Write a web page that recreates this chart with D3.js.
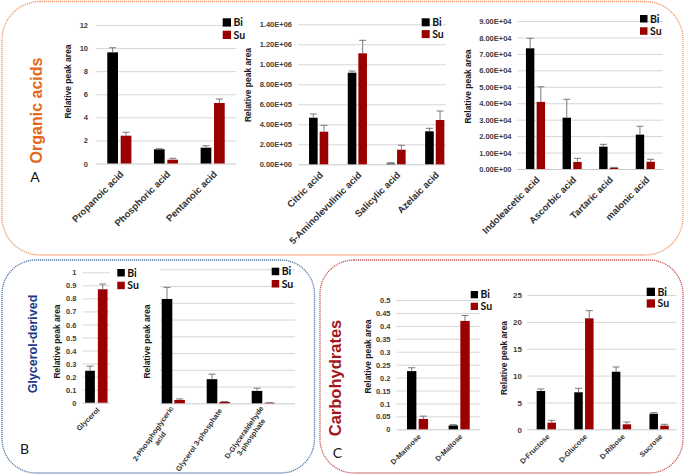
<!DOCTYPE html>
<html><head><meta charset="utf-8">
<script src="https://cdn.jsdelivr.net/npm/d3@7"></script>
<style>
body{margin:0;background:#fff;}
svg{display:block;}
</style></head>
<body>
<svg id="c" width="685" height="475"></svg>
<script>
// ---------------- DATA ----------------
const seriesNames = ["Bi", "Su"];

// A1
const a1Categories = ["Propanoic acid", "Phosphoric acid", "Pentanoic acid"];
const a1Bi = [9.63, 1.23, 1.37];
const a1BiErr = [0.4, 0.05, 0.17];
const a1Su = [2.41, 0.33, 5.24];
const a1SuErr = [0.3, 0.12, 0.35];
const a1Ticks = [0, 2, 4, 6, 8, 10, 12];

// A2
const a2Categories = ["Citric acid", "5-Aminolevulinic acid", "Salicylic acid", "Azelaic acid"];
const a2Bi = [466000, 916000, 8000, 330000];
const a2BiErr = [37000, 17000, 8000, 30000];
const a2Su = [326000, 1110000, 146000, 443000];
const a2SuErr = [64000, 130000, 44000, 90000];
const a2Ticks = [0, 200000, 400000, 600000, 800000, 1000000, 1200000, 1400000];

// A3
const a3Categories = ["Indoleacetic acid", "Ascorbic acid", "Tartaric acid", "malonic acid"];
const a3Bi = [73400, 31200, 13600, 20900];
const a3BiErr = [6100, 11200, 1400, 5100];
const a3Su = [40800, 4300, 800, 4400];
const a3SuErr = [9200, 2200, 200, 1500];
const a3Ticks = [0, 10000, 20000, 30000, 40000, 50000, 60000, 70000, 80000, 90000];

// B1
const b1Categories = ["Glycerol"];
const b1Bi = [0.245];
const b1BiErr = [0.035];
const b1Su = [0.87];
const b1SuErr = [0.04];
const b1Ticks = [0, 0.1, 0.2, 0.3, 0.4, 0.5, 0.6, 0.7, 0.8, 0.9, 1];

// B2 (no tick labels shown)
const b2Categories = [["2-Phosphoglyceric", "acid"], ["Glycerol 3-phosphate"], ["D-Glyceraldehyde", "3-phosphate"]];
const b2Bi = [6.23, 1.44, 0.74];
const b2BiErr = [0.69, 0.3, 0.16];
const b2Su = [0.2, 0.08, 0.03];
const b2SuErr = [0.06, 0.03, 0.01];
const b2Ticks = [0, 1, 2, 3, 4, 5, 6, 7, 8];

// C1
const c1Categories = ["D-Mannose", "D-Maltose"];
const c1Bi = [0.225, 0.015];
const c1BiErr = [0.013, 0.003];
const c1Su = [0.04, 0.419];
const c1SuErr = [0.011, 0.021];
const c1Ticks = [0, 0.05, 0.1, 0.15, 0.2, 0.25, 0.3, 0.35, 0.4, 0.45, 0.5];

// C2
const c2Categories = ["D-Fructose", "D-Glucose", "D-Ribose", "Sucrose"];
const c2Bi = [7.13, 6.89, 10.72, 2.9];
const c2BiErr = [0.37, 0.74, 0.88, 0.2];
const c2Su = [1.24, 20.66, 0.93, 0.67];
const c2SuErr = [0.43, 1.42, 0.43, 0.26];
const c2Ticks = [0, 5, 10, 15, 20, 25];

const yLabel = "Relative peak area";
const panelTitles = ["Organic acids", "Glycerol-derived", "Carbohydrates"];
const panelLetters = ["A", "B", "C"];

// ---------------- STYLE ----------------
const colBi = "#000000", colSu = "#9a0000";
const fontArial = "'Liberation Sans', Arial, sans-serif";
const fontCal = "Lato, 'Open Sans', sans-serif";

const svg = d3.select("#c");

// ---------------- PANEL BOXES ----------------
function roundedBox(x, y, w, h, r, color) {
  svg.append("rect").attr("x", x).attr("y", y).attr("width", w).attr("height", h)
    .attr("rx", r).attr("ry", r).attr("fill", "none")
    .attr("stroke", color).attr("stroke-width", 1.3).attr("stroke-dasharray", "1.2,0.8");
}
roundedBox(2, 1.5, 681, 253.5, 38, "#f0986a");
roundedBox(2, 260, 312.5, 213, 34, "#5878a8");
roundedBox(320, 260, 363, 213, 34, "#c95a5a");

function vTitle(text, x, y, size, color) {
  svg.append("text").attr("transform", `translate(${x},${y}) rotate(-90)`)
    .attr("text-anchor", "middle").attr("font-family", fontArial).attr("font-weight", "bold")
    .attr("font-size", size).attr("fill", color).text(text);
}
vTitle(panelTitles[0], 42, 110.5, 16, "#e4691c");
vTitle(panelTitles[1], 36.5, 344, 12.5, "#1f3a8a");
vTitle(panelTitles[2], 341, 378, 16.5, "#a3161c");

function letter(t, x, y) {
  svg.append("text").attr("x", x).attr("y", y).attr("text-anchor", "middle")
    .attr("font-family", fontCal).attr("font-size", 14).attr("fill", "#111").text(t);
}
letter(panelLetters[0], 35, 182);
letter(panelLetters[1], 24.5, 454);
letter(panelLetters[2], 337.5, 458);

// ---------------- CHART FUNCTION ----------------
function sciFmt(d) {
  const [m, e] = d.toExponential(2).split("e");
  const sign = e[0] === "-" ? "-" : "+";
  const ex = Math.abs(+e).toString().padStart(2, "0");
  return m.toUpperCase() + "E" + sign + ex;
}
function decFmt(d) { return String(+d.toFixed(2)); }

function barChart(cfg) {
  const g = svg.append("g");
  const y = d3.scaleLinear().domain(cfg.domain).range([cfg.y0, cfg.y1]);
  const x = d3.scaleBand().domain(d3.range(cfg.categories.length)).range(cfg.band).padding(0);
  const x1 = d3.scaleBand().domain(seriesNames).range([0, cfg.barW * 2 + cfg.gap]).paddingInner(cfg.gap / (cfg.barW + cfg.gap)).paddingOuter(0);
  const groupW = cfg.barW * 2 + cfg.gap;

  // gridlines via axis
  const gw = cfg.grid[1] - cfg.grid[0];
  const ga = g.append("g").attr("transform", `translate(${cfg.grid[1]},0)`)
    .call(d3.axisLeft(y).tickValues(cfg.ticks).tickSize(gw).tickFormat(""));
  ga.select(".domain").remove();
  ga.selectAll(".tick line").attr("stroke", "#d6d6d6").attr("stroke-width", 1);
  ga.selectAll(".tick").filter(d => d === cfg.domain[0]).select("line").attr("stroke", "#c8c8c8");

  // tick labels
  if (cfg.showTickLabels) {
    const la = g.append("g").attr("transform", `translate(${cfg.tickX},0)`)
      .call(d3.axisLeft(y).tickValues(cfg.ticks).tickSize(0).tickPadding(0).tickFormat(cfg.fmt));
    la.select(".domain").remove();
    la.selectAll("text").attr("font-family", fontArial).attr("font-weight", "bold")
      .attr("font-size", cfg.tickSize || 7.5).attr("fill", "#404040").attr("dy", "0.34em");
  }

  // bars
  const series = [
    { name: "Bi", vals: cfg.bi, errs: cfg.biErr, color: colBi },
    { name: "Su", vals: cfg.su, errs: cfg.suErr, color: colSu }
  ];
  series.forEach(s => {
    const bg = g.append("g");
    const items = s.vals.map((v, i) => ({ v, e: s.errs[i], i }));
    const gx = d => x(d.i) + (x.bandwidth() - groupW) / 2 + x1(s.name);
    bg.selectAll("rect").data(items).join("rect")
      .attr("x", gx).attr("width", cfg.barW)
      .attr("y", d => y(d.v)).attr("height", d => y(cfg.domain[0]) - y(d.v))
      .attr("fill", s.color);
    // error bars (upper only)
    bg.selectAll("line.v").data(items).join("line").attr("class", "v")
      .attr("x1", d => gx(d) + cfg.barW / 2).attr("x2", d => gx(d) + cfg.barW / 2)
      .attr("y1", d => y(d.v)).attr("y2", d => y(d.v + d.e))
      .attr("stroke", "#7a7a7a").attr("stroke-width", 1);
    bg.selectAll("line.c").data(items).join("line").attr("class", "c")
      .attr("x1", d => gx(d) + cfg.barW / 2 - cfg.cap).attr("x2", d => gx(d) + cfg.barW / 2 + cfg.cap)
      .attr("y1", d => y(d.v + d.e)).attr("y2", d => y(d.v + d.e))
      .attr("stroke", "#7a7a7a").attr("stroke-width", 1);
  });

  // x labels
  cfg.categories.forEach((c, i) => {
    const lines = Array.isArray(c) ? c : [c];
    const cx = x(i) + x.bandwidth() / 2 + (cfg.labelDx || 0);
    const t = g.append("g").attr("transform", `translate(${cx},${cfg.y0 + cfg.labelDy}) rotate(${cfg.angle})`);
    const txt = t.append("text").attr("font-family", fontArial).attr("font-size", cfg.labelSize)
      .attr("fill", "#333").attr("font-weight", "bold");
    if (lines.length === 1) {
      txt.attr("text-anchor", "end").attr("dy", "0.35em").text(lines[0]);
    } else {
      const tmp = t.append("text").attr("font-family", fontArial).attr("font-size", cfg.labelSize).attr("font-weight", "bold");
      let maxW = 0;
      lines.forEach(l => { tmp.text(l); maxW = Math.max(maxW, tmp.node().getComputedTextLength()); });
      tmp.remove();
      const lh = cfg.labelSize * 1.15;
      lines.forEach((l, k) => {
        txt.append("tspan").attr("x", -maxW / 2).attr("text-anchor", "middle")
          .attr("y", (k - (lines.length - 1) / 2) * lh).attr("dy", "0.35em").text(l);
      });
    }
  });

  // y label
  g.append("text").attr("transform", `translate(${cfg.yl[0]},${cfg.yl[1]}) rotate(-90)`)
    .attr("text-anchor", "middle").attr("dy", "0.35em").attr("font-family", fontArial)
    .attr("font-weight", "bold").attr("font-size", cfg.ylSize || 8.5).attr("fill", "#1a1a1a").text(yLabel);

  // legend
  seriesNames.forEach((n, k) => {
    const ly = cfg.leg[1] + k * cfg.legStep;
    g.append("rect").attr("x", cfg.leg[0]).attr("y", ly).attr("width", cfg.legSq).attr("height", cfg.legSq)
      .attr("fill", k === 0 ? colBi : colSu);
    g.append("text").attr("x", cfg.leg[0] + cfg.legSq + 2.5).attr("y", ly + cfg.legSq / 2).attr("dy", "0.36em")
      .attr("font-family", fontCal).attr("font-weight", "bold").attr("font-size", 10.5)
      .attr("fill", "#111").text(n);
  });
}

// ---------------- CHARTS ----------------
barChart({
  categories: a1Categories, bi: a1Bi, biErr: a1BiErr, su: a1Su, suErr: a1SuErr, ticks: a1Ticks,
  domain: [0, 12], y0: 163.5, y1: 25, grid: [96, 236], band: [96, 236], barW: 10.7, gap: 2.7, cap: 3.5,
  showTickLabels: true, tickX: 88, fmt: d => String(d),
  angle: -45, labelSize: 9.5, labelDy: 9, labelDx: 2.5,
  yl: [68.5, 81.5], leg: [222.7, 18.3], legSq: 8.3, legStep: 12.4
});
barChart({
  categories: a2Categories, bi: a2Bi, biErr: a2BiErr, su: a2Su, suErr: a2SuErr, ticks: a2Ticks,
  domain: [0, 1400000], y0: 164.3, y1: 24.3, grid: [298.3, 446], band: [299.3, 454.1], barW: 8.6, gap: 2, cap: 3.5,
  showTickLabels: true, tickX: 292, fmt: sciFmt,
  angle: -45, labelSize: 9.5, labelDy: 9, labelDx: 2.5,
  yl: [248.3, 85], leg: [421.7, 18.3], legSq: 8, legStep: 11.8
});
barChart({
  categories: a3Categories, bi: a3Bi, biErr: a3BiErr, su: a3Su, suErr: a3SuErr, ticks: a3Ticks,
  domain: [0, 90000], y0: 169, y1: 21, grid: [517.3, 662.7], band: [517.2, 663.6], barW: 8.4, gap: 2.3, cap: 3.5,
  showTickLabels: true, tickX: 511.5, fmt: sciFmt,
  angle: -45, labelSize: 9.5, labelDy: 9, labelDx: 2.5,
  yl: [468.3, 86.5], leg: [640, 15], legSq: 7.5, legStep: 12.3
});
barChart({
  categories: b1Categories, bi: b1Bi, biErr: b1BiErr, su: b1Su, suErr: b1SuErr, ticks: b1Ticks,
  domain: [0, 1], y0: 402.7, y1: 272.3, grid: [82.7, 110], band: [82.7, 110], barW: 9.7, gap: 3, cap: 3.5,
  showTickLabels: true, tickX: 76.5, fmt: decFmt,
  angle: -45, labelSize: 7.3, labelDy: 6, labelDx: 2,
  yl: [57, 341.5], leg: [117.3, 269], legSq: 7.5, legStep: 12.7
});
barChart({
  categories: b2Categories, bi: b2Bi, biErr: b2BiErr, su: b2Su, suErr: b2SuErr, ticks: b2Ticks,
  domain: [0, 8], y0: 403.3, y1: 269.3, grid: [160, 295], band: [150.8, 285.8], barW: 10.6, gap: 2, cap: 3.5,
  showTickLabels: false,
  angle: -55, labelSize: 7.3, labelDy: 6, labelDx: 2,
  yl: [147, 341.5], leg: [271.7, 267.7], legSq: 7.5, legStep: 12.3
});
barChart({
  categories: c1Categories, bi: c1Bi, biErr: c1BiErr, su: c1Su, suErr: c1SuErr, ticks: c1Ticks,
  domain: [0, 0.5], y0: 429.3, y1: 300, grid: [396.7, 480], band: [396.7, 480], barW: 9.4, gap: 2.3, cap: 3.5,
  showTickLabels: true, tickX: 390.5, fmt: decFmt,
  angle: -45, labelSize: 7.3, labelDy: 6, labelDx: 2,
  yl: [368, 356.5], leg: [470.7, 291], legSq: 7.3, legStep: 11.7
});
barChart({
  categories: c2Categories, bi: c2Bi, biErr: c2BiErr, su: c2Su, suErr: c2SuErr, ticks: c2Ticks,
  domain: [0, 25], y0: 429.3, y1: 295, grid: [527.3, 676.7], band: [527.5, 677.9], barW: 8.5, gap: 2.3, cap: 3.5,
  showTickLabels: true, tickX: 522, fmt: d => String(d), tickSize: 8,
  angle: -45, labelSize: 7.3, labelDy: 6, labelDx: 2,
  yl: [504, 358], leg: [646.7, 287.7], legSq: 8.3, legStep: 11.6
});
</script>
</body></html>
